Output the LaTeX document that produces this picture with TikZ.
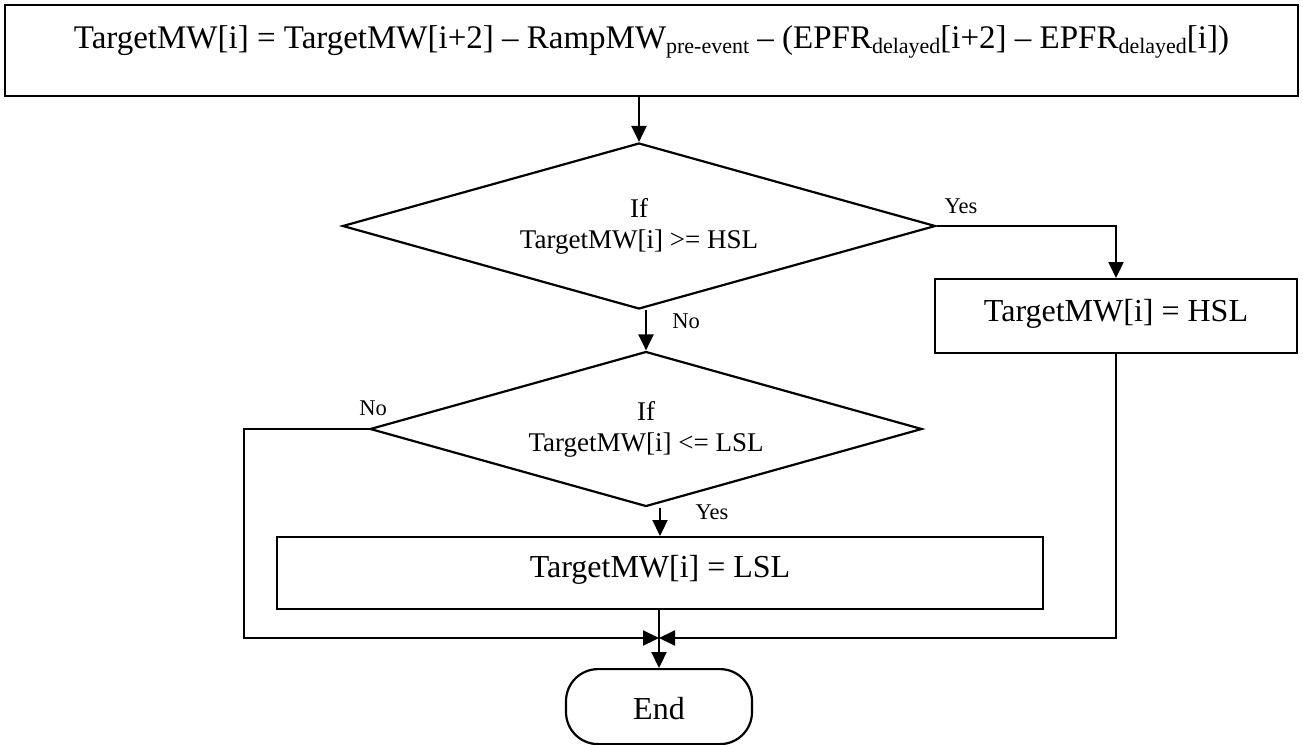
\documentclass[tikz,border=0pt]{standalone}
\usepackage{fontspec}
\setmainfont{Liberation Serif}
\usetikzlibrary{shapes.geometric,arrows.meta}

% lowered, smaller text for subscripts in the formula
\newcommand\lowsub[1]{\raisebox{-5pt}{\fontsize{22}{22}\selectfont #1}}

\begin{document}
\begin{tikzpicture}[x=1pt,y=-1pt,line width=2.2pt,
  flow/.style={-{Triangle[length=16pt,width=15pt]}},
  procbox/.style={draw,rectangle,inner sep=0pt,font=\fontsize{32}{36}\selectfont},
  decision/.style={draw,diamond,aspect=3.5,inner sep=0pt,align=center,
    font=\fontsize{27}{31}\selectfont},
  branch/.style={font=\fontsize{22.5}{26}\selectfont,inner sep=0pt,anchor=base},
  terminal/.style={draw,rectangle,rounded corners=32pt,inner sep=0pt,
    font=\fontsize{32}{36}\selectfont}]
\useasboundingbox (0,0) rectangle (1303,744);

% formula box
\node[procbox,font=\fontsize{33}{36}\selectfont,minimum width=1293pt,
  text height=43pt,text depth=48pt,anchor=north]
  (calc) at (651.5,4)
  {TargetMW[i] = TargetMW[i+2] – RampMW\lowsub{pre-event} – (EPFR\lowsub{delayed}[i+2] – EPFR\lowsub{delayed}[i])};

% decisions
\node[decision,minimum width=593pt,minimum height=166pt] (hi) at (639,226)
  {If\\TargetMW[i] >= HSL};
\node[decision,minimum width=552pt,minimum height=155pt] (lo) at (646,429)
  {If\\TargetMW[i] <= LSL};

% assignments
\node[procbox,minimum width=362pt,text height=42pt,text depth=32pt,anchor=north]
  (sethi) at (1116,278) {TargetMW[i] = HSL};
\node[procbox,minimum width=766pt,text height=40pt,text depth=32pt,anchor=north]
  (setlo) at (660,536) {TargetMW[i] = LSL};

% terminal
\node[terminal,minimum width=186pt,text height=50pt,text depth=25pt,anchor=north]
  (end) at (659,668) {End};

% branch labels
\node[branch] (yeshi) at (961,213.5) {Yes};
\node[branch] (nohi) at (686,328.5) {No};
\node[branch] (nolo) at (373,415.5) {No};
\node[branch] (yeslo) at (712,519.5) {Yes};

% routing points
\coordinate (merge) at (659,638);
\coordinate (lcorner) at (244,429);

% connectors
\draw[flow] (hi.north |- calc.south) -- (hi.north);
\draw[flow] (hi.east) -| (sethi.north);
\draw[flow] (lo.north |- hi.south) -- (lo.north);
\draw[flow] (setlo.north |- lo.south) -- (setlo.north);
\draw[flow] (lo.west) -- (lo.west -| lcorner) |- (merge);
\draw[flow] (sethi.south) |- (merge);
\draw[flow] (setlo.south -| end.north) -- (end.north);
\end{tikzpicture}
\end{document}
